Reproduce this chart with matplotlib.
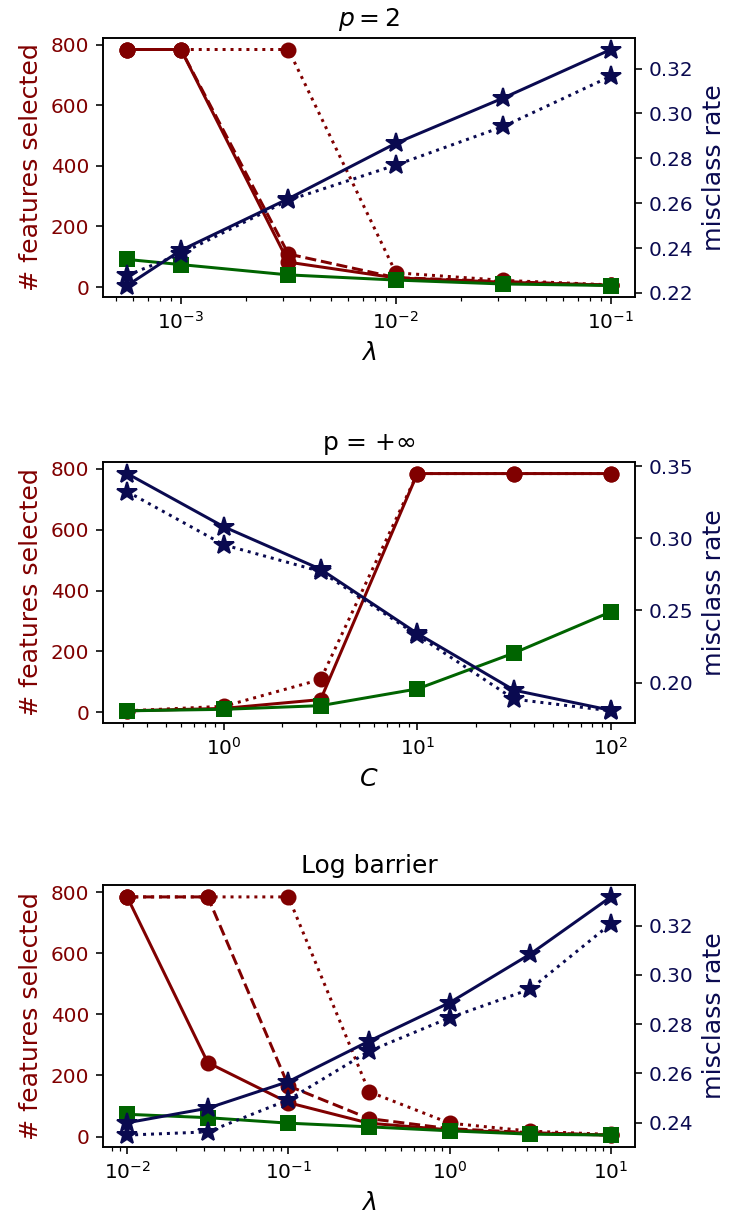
import numpy as np
import matplotlib
matplotlib.use("Agg")
import matplotlib.pyplot as plt

RED = "#800000"
GREEN = "#006400"
BLUE = "#0a0a50"

# Panel 1: p = 2
x1_exp = [-3.25, -3.0, -2.5, -2.0, -1.5, -1.0]
p1_red_solid = [784, 784, 82, 30, 16, 6]
p1_red_dashed = [784, 784, 109, 31, 18, 6]
p1_red_dotted = [784, 784, 784, 47, 22, 7]
p1_green = [91, 74, 40, 23, 10, 5]
p1_blue_solid = [0.2233, 0.2390, 0.2620, 0.2867, 0.3069, 0.3285]
p1_blue_dotted = [0.2278, 0.2375, 0.2613, 0.2770, 0.2942, 0.3166]

# Panel 2: p = +inf
x2_exp = [-0.5, 0.0, 0.5, 1.0, 1.5, 2.0]
p2_red_solid = [5, 13, 42, 784, 784, 784]
p2_red_dotted = [5, 20, 108, 784, 784, 784]
p2_green = [5, 10, 22, 77, 195, 330]
p2_blue_solid = [0.3448, 0.3079, 0.2785, 0.2340, 0.1947, 0.1808]
p2_blue_dotted = [0.3323, 0.2954, 0.2770, 0.2328, 0.1885, 0.1804]

# Panel 3: Log barrier
x3_exp = [-2.0, -1.5, -1.0, -0.5, 0.0, 0.5, 1.0]
p3_red_solid = [784, 242, 111, 44, 22, 11, 5]
p3_red_dashed = [784, 784, 166, 59, 26, 13, 5]
p3_red_dotted = [784, 784, 784, 147, 44, 18, 7]
p3_green = [73, 62, 44, 32, 19, 8, 5]
p3_blue_solid = [0.2400, 0.2459, 0.2567, 0.2731, 0.2887, 0.3084, 0.3316]
p3_blue_dotted = [0.2350, 0.2363, 0.2493, 0.2690, 0.2826, 0.2942, 0.3207]

titles = ["$p = 2$", "p = $+\\infty$", "Log barrier"]
xlabels = ["$\\lambda$", "$C$", "$\\lambda$"]

panels = [
    (x1_exp, [(p1_red_solid, "-"), (p1_red_dashed, "--"), (p1_red_dotted, ":")], p1_green,
     [(p1_blue_solid, "-"), (p1_blue_dotted, ":")]),
    (x2_exp, [(p2_red_solid, "-"), (p2_red_dotted, ":")], p2_green,
     [(p2_blue_solid, "-"), (p2_blue_dotted, ":")]),
    (x3_exp, [(p3_red_solid, "-"), (p3_red_dashed, "--"), (p3_red_dotted, ":")], p3_green,
     [(p3_blue_solid, "-"), (p3_blue_dotted, ":")]),
]

DPI = 144
W, H = 729, 1218
fig = plt.figure(figsize=(W / DPI, H / DPI), dpi=DPI)

boxes = [(37.7, 297.3), (461.7, 722.7), (885, 1147)]
left_px, right_px = 103, 635

TICK_FS = 10
LAB_FS = 12.6
TITLE_FS = 12.5

for (top, bot), (xe, reds, green, blues), title, xl in zip(boxes, panels, titles, xlabels):
    ax = fig.add_axes([left_px / W, 1 - bot / H, (right_px - left_px) / W, (bot - top) / H])
    x = 10.0 ** np.array(xe)
    for ys, ls in reds:
        ax.plot(x, ys, ls, color=RED, marker="o", ms=7, lw=1.5)
    ax.plot(x, green, "-", color=GREEN, marker="s", ms=7, lw=1.5)
    ax.set_xscale("log")
    ax.set_ylabel("# features selected", color=RED, fontsize=LAB_FS)
    ax.tick_params(axis="y", labelcolor=RED, labelsize=TICK_FS)
    ax.tick_params(axis="x", labelsize=TICK_FS)
    ax.set_xlabel(xl, fontsize=LAB_FS)
    ax.set_title(title, fontsize=TITLE_FS)
    ax.set_yticks([0, 200, 400, 600, 800])

    ax2 = ax.twinx()
    for ys, ls in blues:
        ax2.plot(x, ys, ls, color=BLUE, marker="*", ms=10.5, lw=1.5)
    ax2.set_ylabel("misclass rate", color=BLUE, fontsize=LAB_FS)
    ax2.tick_params(axis="y", labelcolor=BLUE, labelsize=TICK_FS)

fig.savefig("out.png", dpi=DPI)
